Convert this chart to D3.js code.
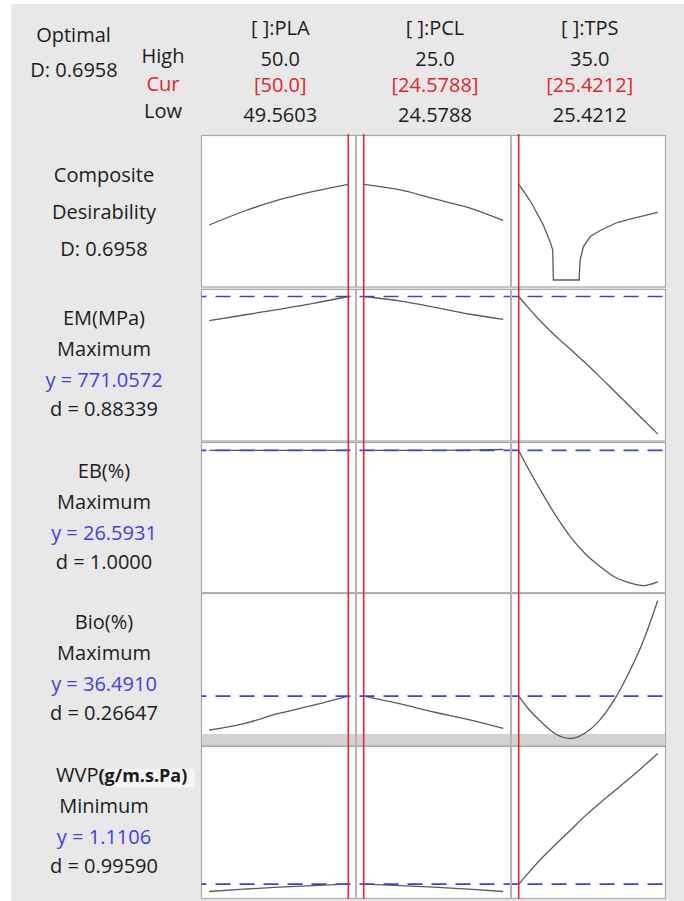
<!DOCTYPE html>
<html>
<head>
<meta charset="utf-8">
<script src="https://cdnjs.cloudflare.com/ajax/libs/d3/7.8.5/d3.min.js"></script>
<style>
  html, body { margin: 0; padding: 0; background: #ffffff; }
  svg { display: block; }
  text { font-family: "Open Sans", "Noto Sans", sans-serif; }
</style>
</head>
<body>
<div id="chart"></div>
<script>
// ---------------- data ----------------
const factors   = ["[ ]:PLA", "[ ]:PCL", "[ ]:TPS"];
const highLabel = ["50.0", "25.0", "35.0"];
const curLabel  = ["[50.0]", "[24.5788]", "[25.4212]"];
const lowLabel  = ["49.5603", "24.5788", "25.4212"];
const lows  = [49.5603, 24.5788, 25.4212];
const highs = [50.0, 25.0, 35.0];
const curs  = [50.0, 24.5788, 25.4212];

const responses = ["EM(MPa)", "EB(%)", "Bio(%)", "WVP"];
const goals     = ["Maximum", "Maximum", "Maximum", "Minimum"];
const yTexts    = ["y = 771.0572", "y = 26.5931", "y = 36.4910", "y = 1.1106"];
const dTexts    = ["d = 0.88339", "d = 1.0000", "d = 0.26647", "d = 0.99590"];
const yCurrent  = [0.6958, 771.0572, 26.5931, 36.4910, 1.1106];
const bioLower  = 33.37;

// x grids for each factor
const plaX     = [49.5603, 49.67, 49.78, 49.89, 50.0];
const pclX     = [24.5788, 24.69, 24.79, 24.895, 25.0];
const tpsX     = [25.4212, 26, 27, 28, 29, 30, 31, 32, 33, 34, 35];
const tpsXComp = [25.4212, 25.84, 26.30, 27.11, 27.62, 27.76, 27.81, 29.58, 29.65, 29.88, 30.35, 31.04, 32.20, 33.35, 35.0];

// composite desirability
const compPLA = [0.400, 0.500, 0.582, 0.644, 0.6958];
const compPCL = [0.6958, 0.655, 0.591, 0.527, 0.433];
const compTPS = [0.6958, 0.633, 0.560, 0.401, 0.268, 0.219, 0, 0, 0.146, 0.243, 0.316, 0.360, 0.418, 0.450, 0.491];

// EM (MPa)
const emPLA = [709.2, 723.8, 738.3, 753.6, 771.0572];
const emPCL = [771.0572, 759.5, 744.2, 726.4, 712.8];
const emTPS = [771.0572, 746.0, 705.4, 668.7, 636.0, 601.8, 566.5, 529.8, 493.3, 456.5, 420.0];

// EB (%)
const ebPLA = [26.585, 26.588, 26.590, 26.592, 26.5931];
const ebPCL = [26.5931, 26.595, 26.600, 26.630, 26.740];
const ebTPS = [26.5931, 23.81, 19.41, 15.27, 11.65, 8.80, 6.65, 4.84, 3.84, 3.30, 3.94];

// Bio (%)
const bioPLA = [33.70, 34.23, 35.06, 35.74, 36.491];
const bioPCL = [36.491, 35.84, 35.18, 34.56, 33.84];
const bioTPS = [36.491, 35.57, 34.33, 33.35, 33.00, 33.45, 34.51, 36.17, 38.39, 41.02, 44.35];

// WVP (g/m.s.Pa)
const wvpPLA = [1.018, 1.047, 1.073, 1.093, 1.1106];
const wvpPCL = [1.1106, 1.092, 1.073, 1.049, 1.018];
const wvpTPS = [1.1106, 1.234, 1.436, 1.617, 1.791, 1.968, 2.128, 2.279, 2.431, 2.589, 2.752];

// ---------------- layout ----------------
const W = 684, H = 901;
const colBounds = [[201.5, 356], [356, 511], [511, 665.5]];
const colPad = 7.7;
const panelTop = [135.5, 289.5, 442.5, 593.5, 746.5];
const panelBot = [287, 441, 592.7, 745.5, 898.5];
const yPad = 7;
const plotLeft = 201.5, plotRight = 665.5;

const TXT = "#1c1c1c", RED = "#e3262b", BLUE = "#4040e6", CURVE = "#5a5a5a";

const zip = (xs, ys) => xs.map((x, i) => [x, ys[i]]);
const rows = [
  [zip(plaX, compPLA), zip(pclX, compPCL), zip(tpsXComp, compTPS)],
  [zip(plaX, emPLA),   zip(pclX, emPCL),   zip(tpsX, emTPS)],
  [zip(plaX, ebPLA),   zip(pclX, ebPCL),   zip(tpsX, ebTPS)],
  [zip(plaX, bioPLA),  zip(pclX, bioPCL),  zip(tpsX, bioTPS)],
  [zip(plaX, wvpPLA),  zip(pclX, wvpPCL),  zip(tpsX, wvpTPS)]
];

const svg = d3.select("#chart").append("svg").attr("width", W).attr("height", H);

svg.append("rect").attr("x", 11).attr("y", 4).attr("width", W - 11).attr("height", H - 4).attr("fill", "#e8e8e8");

const xScales = lows.map((lo, i) =>
  d3.scaleLinear().domain([lo, highs[i]]).range([colBounds[i][0] + colPad, colBounds[i][1] - colPad]));

// header
const header = svg.append("g").attr("font-size", 20).attr("fill", TXT).attr("text-anchor", "middle");
header.append("text").attr("x", 73.5).attr("y", 41.7).text("Optimal");
header.append("text").attr("x", 74).attr("y", 76.7).text("D: 0.6958");
header.append("text").attr("x", 163).attr("y", 62.7).text("High");
header.append("text").attr("x", 163).attr("y", 90.7).attr("fill", RED).text("Cur");
header.append("text").attr("x", 163).attr("y", 118.3).text("Low");
factors.forEach((f, i) => {
  const cx = (colBounds[i][0] + colBounds[i][1]) / 2 + 1.5;
  header.append("text").attr("x", cx).attr("y", 35).text(f);
  header.append("text").attr("x", cx).attr("y", 65.5).text(highLabel[i]);
  header.append("text").attr("x", cx).attr("y", 91.5).attr("fill", RED).text(curLabel[i]);
  header.append("text").attr("x", cx).attr("y", 121.5).text(lowLabel[i]);
});

// panels
rows.forEach((series, r) => {
  const top = panelTop[r], bot = panelBot[r];
  const g = svg.append("g");
  let domain;
  if (r === 0) domain = [0, 1];
  else domain = d3.extent(series.flat(), d => d[1]);
  const y = d3.scaleLinear().domain(domain).range([bot - yPad, top + yPad]);

  g.append("rect").attr("x", plotLeft).attr("y", top).attr("width", plotRight - plotLeft).attr("height", bot - top)
    .attr("fill", "#ffffff").attr("stroke", "#a9a9a9").attr("stroke-width", 1.2);

  if (r === 3) {
    g.append("rect").attr("x", plotLeft + 0.6).attr("y", y(bioLower))
      .attr("width", plotRight - plotLeft - 1.2).attr("height", bot - y(bioLower))
      .attr("fill", "#d2d2d2");
  }

  series.forEach((pts, c) => {
    const line = d3.line().x(d => xScales[c](d[0])).y(d => y(d[1]))
      .curve(r === 0 && c === 2 ? d3.curveLinear : d3.curveMonotoneX);
    g.append("path").attr("d", line(pts)).attr("fill", "none")
      .attr("stroke", CURVE).attr("stroke-width", 1.3);
  });

  if (r > 0) {
    g.append("line").attr("x1", plotLeft).attr("x2", plotRight)
      .attr("y1", y(yCurrent[r])).attr("y2", y(yCurrent[r]))
      .attr("stroke", BLUE).attr("stroke-width", 1.7).attr("stroke-dasharray", "15,9").attr("stroke-dashoffset", 10);
  }

  [colBounds[0][1], colBounds[1][1]].forEach(sx => {
    g.append("line").attr("x1", sx).attr("x2", sx).attr("y1", top).attr("y2", bot)
      .attr("stroke", "#b5b5b5").attr("stroke-width", 2);
  });

  // left labels
  const lab = svg.append("g").attr("font-size", 20).attr("fill", TXT).attr("text-anchor", "middle");
  if (r === 0) {
    lab.append("text").attr("x", 104).attr("y", top + 46.2).text("Composite");
    lab.append("text").attr("x", 104).attr("y", top + 83.5).text("Desirability");
    lab.append("text").attr("x", 104).attr("y", top + 120.5).text("D: 0.6958");
  } else {
    if (r === 4) {
      lab.append("rect").attr("x", 106).attr("y", top + 22.5).attr("width", 89).attr("height", 18.5).attr("fill", "#f6f6f6");
      const t = lab.append("text").attr("x", 56).attr("y", top + 35.5).attr("text-anchor", "start");
      t.append("tspan").text("WVP");
      t.append("tspan").attr("font-weight", "bold").attr("font-size", 18).text("(g/m.s.Pa)");
    } else {
      lab.append("text").attr("x", 104).attr("y", top + 35.5).text(responses[r - 1]);
    }
    lab.append("text").attr("x", 104).attr("y", top + 66).text(goals[r - 1]);
    lab.append("text").attr("x", 104).attr("y", top + 97).attr("fill", BLUE).text(yTexts[r - 1]);
    lab.append("text").attr("x", 104).attr("y", top + 126.5).text(dTexts[r - 1]);
  }
});

// current setting red lines
curs.forEach((cv, i) => {
  const x = xScales[i](cv);
  svg.append("line").attr("x1", x).attr("x2", x).attr("y1", 134).attr("y2", 899)
    .attr("stroke", RED).attr("stroke-width", 1.6);
});
</script>
</body>
</html>
